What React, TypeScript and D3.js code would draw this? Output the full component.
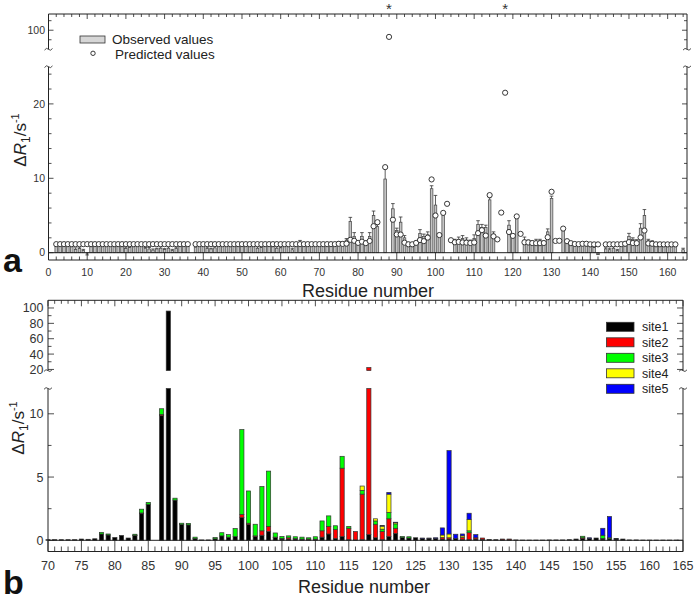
import React from "react";
import * as d3 from "d3";

// ---- panel a : observed / predicted dR1 per residue ----
const residuesA = [
  2, 3, 4, 5, 6, 7, 8, 9, 10, 11,
  12, 13, 14, 15, 16, 17, 18, 19, 20, 21,
  22, 23, 24, 25, 26, 27, 28, 29, 30, 31,
  32, 33, 34, 35, 36, 37, 38, 39, 40, 41,
  42, 43, 44, 45, 46, 47, 48, 49, 50, 51,
  52, 53, 54, 55, 56, 57, 58, 59, 60, 61,
  62, 63, 64, 65, 66, 67, 68, 69, 70, 71,
  72, 73, 74, 75, 76, 77, 78, 79, 80, 81,
  82, 83, 84, 85, 86, 87, 88, 89, 90, 91,
  92, 93, 94, 95, 96, 97, 98, 99, 100, 101,
  102, 103, 104, 105, 106, 107, 108, 109, 110, 111,
  112, 113, 114, 115, 116, 117, 118, 119, 120, 121,
  122, 123, 124, 125, 126, 127, 128, 129, 130, 131,
  132, 133, 134, 135, 136, 137, 138, 139, 140, 141,
  142, 143, 144, 145, 146, 147, 148, 149, 150, 151,
  152, 153, 154, 155, 156, 157, 158, 159, 160, 161,
  162, 163, 164,
];

const observedA = [
  0.85, 0.9, 0.85, 0.9, 0.8, 0.45, 0.55, 0.3, -0.05, 0.8,
  0.85, 0.9, 0.85, 0.9, 0.85, 0.8, 0.85, 0.8, 0.55, 0.7,
  0.8, 0.85, 0.9, 0.6, 0.5, 0.35, 0.5, 0.6, 0.45, 0.6,
  0.3, 0.55, 0.85, 0.9, 0.85, null, 0.75, 0.85, 0.9, 0.55,
  0.5, 0.65, 0.85, 0.9, 0.85, 0.8, 0.9, 0.85, 0.85, 0.9,
  0.8, 0.85, 0.6, 0.7, 0.85, 0.9, 0.8, 0.6, 0.65, 0.85,
  0.8, 0.4, 0.85, 1.2, 0.85, 0.9, 0.85, 0.9, 0.85, 0.9,
  0.95, 1.0, 1.1, 1.3, 1.3, 1.7, 4.2, 2.2, 1.3, 2.2,
  1.4, 2.2, 5.0, 3.5, null, 9.9, null, 5.9, 3.0, 4.1,
  2.0, 1.3, 1.2, 1.4, 2.6, 2.2, 2.4, 8.6, 6.4, 2.3,
  5.0, null, null, 1.5, 1.8, 1.9, 1.7, 1.5, 1.9, 3.8,
  3.4, 3.4, 7.1, 2.5, null, null, null, 3.7, 2.0, 4.6,
  null, 1.7, 1.5, 1.4, 1.5, 1.6, 1.4, 2.8, 7.3, null,
  null, 3.0, 1.4, 1.3, 1.1, 1.0, 1.0, 0.9, 0.8, 0.7,
  -0.15, null, 0.5, 0.4, 0.6, 0.3, 0.9, 0.9, 2.2, 1.8,
  1.6, 3.3, 5.0, 1.6, 1.5, 1.2, 1.1, 1.0, 1.0, 1.0,
  1.0, null, 0.4,
];

const errorA = [
  0.05, 0.05, 0.05, 0.05, 0.05, 0.2, 0.2, 0.15, -0.25, 0.05,
  0.05, 0.05, 0.05, 0.05, 0.05, 0.05, 0.05, 0.05, 0.2, 0.15,
  0.05, 0.05, 0.05, 0.1, 0.2, 0.15, 0.1, 0.2, 0.1, 0.2,
  0.15, 0.2, 0.05, 0.05, 0.05, null, 0.2, 0.05, 0.05, 0.2,
  0.1, 0.2, 0.05, 0.05, 0.05, 0.05, 0.05, 0.05, 0.05, 0.05,
  0.05, 0.05, 0.2, 0.1, 0.05, 0.05, 0.05, 0.2, 0.1, 0.05,
  0.05, 0.2, 0.05, 0.45, 0.05, 0.05, 0.05, 0.05, 0.05, 0.05,
  0.05, 0.05, 0.1, 0.2, 0.2, 0.2, 0.55, 0.5, 0.15, 0.5,
  0.2, 0.5, 0.6, 0.3, null, 1.5, null, 0.7, 0.3, 0.7,
  0.3, 0.1, 0.1, 0.15, 0.5, 0.3, 0.4, 0.4, 1.3, 0.3,
  0.3, null, null, 0.3, 0.3, 0.4, 0.3, 0.2, 0.5, 0.5,
  0.4, 0.3, 0.3, 0.3, null, null, null, 0.6, 0.3, 0.3,
  null, 0.4, 0.2, 0.15, 0.3, 0.2, 0.15, 0.4, 0.3, null,
  null, 0.3, 0.3, 0.1, 0.1, 0.1, 0.1, 0.1, 0.1, 0.1,
  -0.1, null, 0.15, 0.2, 0.2, 0.15, 0.1, 0.1, 0.4, 0.2,
  0.15, 0.6, 0.8, 0.2, 0.1, 0.1, 0.1, 0.1, 0.1, 0.1,
  0.1, null, 0.2,
];

const predictedA = [
  1.15, 1.15, 1.15, 1.15, 1.15, 1.15, 1.15, 1.15, 1.15, 1.15,
  1.15, 1.15, 1.15, 1.15, 1.15, 1.15, 1.15, 1.15, 1.15, 1.15,
  1.15, 1.15, 1.15, 1.15, 1.15, 1.15, 1.15, 1.15, 1.15, 1.15,
  1.15, 1.15, 1.15, 1.15, 1.15, null, 1.15, 1.15, 1.15, 1.15,
  1.15, 1.15, 1.15, 1.15, 1.15, 1.15, 1.15, 1.15, 1.15, 1.15,
  1.15, 1.15, 1.15, 1.15, 1.15, 1.15, 1.15, 1.15, 1.15, 1.15,
  1.15, 1.15, 1.15, 1.15, 1.15, 1.15, 1.15, 1.15, 1.15, 1.15,
  1.15, 1.15, 1.15, 1.2, 1.18, 1.22, 1.73, 1.6, 1.32, 1.48,
  1.28, 1.58, 3.56, 4.1, null, 11.5, 96.5, 4.43, 2.45, 2.44,
  1.35, 1.13, 1.13, 1.32, 1.7, 1.55, 2.03, 9.85, 5.0, 2.37,
  5.35, 6.57, 1.68, 1.4, 1.45, 1.38, 1.35, 1.3, 1.38, 2.63,
  3.03, 2.3, 7.74, 2.2, 1.79, 5.39, 21.5, 2.78, 2.26, 4.88,
  2.53, 1.4, 1.38, 1.3, 1.28, 1.28, 1.3, 2.08, 8.19, 1.58,
  1.6, 3.24, 1.55, 1.28, 1.17, 1.15, 1.2, 1.2, 1.13, 1.12,
  1.12, null, 1.12, 1.13, 1.13, 1.13, 1.15, 1.2, 1.42, 1.3,
  1.28, 2.05, 2.98, 1.25, 1.2, 1.13, 1.13, 1.12, 1.12, 1.12,
  1.12, null, null,
];

const starredA = [88, 118];
const xTickLabelsA = [0, 10, 20, 30, 40, 50, 60, 70, 80, 90, 100, 110, 120, 130, 140, 150, 160];
const yTickLabelsA = [0, 10, 20];
const yTickLabelsAHigh = [100];

// ---- panel b : predicted dR1 split by site ----
const residuesB = [
  70, 71, 72, 73, 74, 75, 76, 77, 78, 79,
  80, 81, 82, 83, 84, 85, 86, 87, 88, 89,
  90, 91, 92, 93, 94, 95, 96, 97, 98, 99,
  100, 101, 102, 103, 104, 105, 106, 107, 108, 109,
  110, 111, 112, 113, 114, 115, 116, 117, 118, 119,
  120, 121, 122, 123, 124, 125, 126, 127, 128, 129,
  130, 131, 132, 133, 134, 135, 136, 137, 138, 139,
  140, 141, 142, 143, 144, 145, 146, 147, 148, 149,
  150, 151, 152, 153, 154, 155, 156, 157, 158, 159,
  160, 161, 162, 163, 164, 165,
];

const site1 = [
  0.05, 0.05, 0.05, 0.05, 0.05, 0.1, 0.08, 0.12, 0.5, 0.42,
  0.22, 0.38, 0.18, 0.38, 2.1, 2.85, 0, 9.85, 96, 3.18,
  1.25, 1.22, 0.15, 0.03, 0.03, 0.12, 0.35, 0.25, 0.3, 1.8,
  1.25, 0.3, 0.4, 0.7, 0.22, 0.1, 0.1, 0.1, 0.05, 0.08,
  0.05, 0.25, 0.5, 0.15, 0.3, 0.05, 0.03, 0.05, 0.45, 0.2,
  0.05, 0.3, 0.55, 0.22, 0.18, 0.2, 0.15, 0.12, 0.15, 0.1,
  0.1, 0.15, 0.05, 0.05, 0.1, 0.08, 0.07, 0.05, 0.03, 0.03,
  0.03, 0.02, 0.02, 0.02, 0.02, 0.03, 0.03, 0.03, 0.05, 0.1,
  0.15, 0.15, 0.18, 0.1, 0.12, 0.1, 0.1, 0.03, 0.03, 0.02,
  0.02, 0.02, 0.02, 0.02, 0.02, 0,
];
const site2 = [
  0, 0, 0, 0, 0, 0, 0, 0, 0, 0,
  0, 0, 0, 0.02, 0.06, 0, 0, 0.1, 0, 0,
  0, 0, 0, 0, 0, 0, 0, 0, 0, 0.25,
  0.1, 0.05, 0.35, 0.4, 0.03, 0.05, 0.1, 0.03, 0.05, 0.02,
  0.05, 0.5, 0.6, 0.7, 5.4, 0.9, 0.66, 3.6, 22, 1.07,
  0.65, 1.4, 0.4, 0, 0, 0, 0, 0, 0, 0.12,
  0.1, 0, 0.18, 0.55, 0.1, 0.1, 0, 0, 0.07, 0.07,
  0, 0, 0, 0, 0, 0, 0, 0, 0, 0,
  0.05, 0, 0, 0.05, 0, 0, 0, 0, 0, 0,
  0, 0, 0, 0, 0, 0,
];
const site3 = [
  0, 0, 0, 0, 0, 0, 0, 0, 0.13, 0.08,
  0, 0, 0, 0.08, 0.3, 0.15, 0, 0.45, 0, 0.15,
  0.1, 0.12, 0.1, 0, 0, 0.1, 0.25, 0.2, 0.63, 6.7,
  2.55, 0.92, 3.5, 4.37, 0.33, 0.15, 0.15, 0.15, 0.15, 0.1,
  0.18, 0.78, 0.83, 0.3, 0.94, 0.15, 0, 0.3, 0, 0.26,
  0.18, 0.5, 0.35, 0.08, 0.1, 0, 0, 0, 0, 0,
  0, 0, 0, 0.15, 0, 0, 0, 0, 0, 0,
  0, 0, 0, 0, 0, 0, 0, 0, 0, 0,
  0.12, 0, 0, 0.25, 0.08, 0, 0, 0, 0, 0,
  0, 0, 0, 0, 0, 0,
];
const site4 = [
  0, 0, 0, 0, 0, 0, 0, 0, 0, 0,
  0, 0, 0, 0, 0, 0, 0, 0, 0, 0,
  0, 0, 0, 0, 0, 0, 0, 0, 0, 0,
  0, 0, 0, 0, 0, 0, 0, 0, 0, 0,
  0, 0, 0, 0, 0, 0, 0, 0.34, 0, 0.17,
  0.24, 1.45, 0.1, 0, 0, 0, 0, 0, 0, 0.2,
  0.3, 0, 0.12, 0.9, 0, 0, 0, 0, 0, 0,
  0, 0, 0, 0, 0, 0, 0, 0, 0, 0,
  0, 0, 0, 0, 0, 0, 0, 0, 0, 0,
  0, 0, 0, 0, 0, 0,
];
const site5 = [
  0, 0, 0, 0, 0, 0, 0, 0, 0, 0,
  0, 0, 0, 0, 0, 0, 0, 0, 0, 0,
  0, 0, 0, 0, 0, 0, 0, 0, 0, 0,
  0, 0, 0, 0, 0, 0, 0, 0, 0, 0,
  0, 0, 0, 0, 0, 0, 0, 0, 0, 0,
  0.04, 0.13, 0.03, 0, 0, 0, 0.03, 0.06, 0.05, 0.56,
  6.59, 0.33, 0.15, 0.49, 0.25, 0, 0, 0, 0, 0,
  0, 0, 0, 0, 0, 0, 0, 0, 0, 0,
  0, 0.05, 0, 0.55, 1.68, 0.05, 0, 0, 0, 0,
  0, 0, 0, 0, 0, 0,
];

const siteNames = ["site1", "site2", "site3", "site4", "site5"];
const siteColors = ["#000000", "#ff0000", "#00ff00", "#ffff00", "#0000ff"];
const xTickLabelsB = [70, 75, 80, 85, 90, 95, 100, 105, 110, 115, 120, 125, 130, 135, 140, 145, 150, 155, 160, 165];
const yTickLabelsB = [0, 5, 10];
const yTickLabelsBHigh = [20, 40, 60, 80, 100];

const FONT = "'Liberation Sans', Arial, Helvetica, sans-serif";
const INK = "#222";

// scales, panel a
const xA = d3.scaleLinear().domain([0, 165]).range([48.5, 687]);
const yAlo = d3.scaleLinear().domain([0, 25]).range([252.7, 66.7]);
const yAhi = d3.scaleLinear().domain([90, 108.5]).range([49.3, 14]);
const yA = (v: number) => (v > 25 ? yAhi(v) : yAlo(v));
const A_BOTTOM = 260;

// scales, panel b
const xB = d3.scaleLinear().domain([70, 165]).range([48, 683]);
const yBlo = d3.scaleLinear().domain([0, 12]).range([540.3, 388.5]);
const yBhi = d3.scaleLinear().domain([18.5, 110]).range([370.6, 300.3]);
const B_BOTTOM = 551.5;

function Squiggle({ x, y }: { x: number; y: number }) {
  return (
    <path
      d={`M${x - 4},${y + 0.8} q2,-3 4,-0.8 t4,-0.8`}
      fill="none"
      stroke={INK}
      strokeWidth={0.8}
    />
  );
}

function YTitle({ x, y }: { x: number; y: number }) {
  return (
    <text
      transform={`translate(${x},${y}) rotate(-90)`}
      textAnchor="middle"
      fontFamily={FONT}
      fontSize={17}
      fill="#222"
    >
      Δ<tspan fontStyle="italic">R</tspan>
      <tspan fontSize={12} dy={4}>1</tspan>
      <tspan dy={-4}>/s</tspan>
      <tspan fontSize={11} dy={-7}>-1</tspan>
    </text>
  );
}

function PanelA() {
  const bw = 2.6;
  const minorX = d3.range(0, 165, 2);
  const minorYlo = d3.range(0, 25, 2);
  const minorYhi = [95, 105];
  const [l, r] = xA.range();
  return (
    <g>
      {/* observed bars */}
      {residuesA.map((res, i) => {
        const v = observedA[i];
        if (v === null) return null;
        const y0 = yAlo(0);
        const y1 = yAlo(v);
        return (
          <rect
            key={"b" + res}
            x={xA(res) - bw / 2}
            y={Math.min(y0, y1)}
            width={bw}
            height={Math.abs(y0 - y1)}
            fill="#c4c4c4"
            stroke="#444"
            strokeWidth={0.7}
          />
        );
      })}
      {/* error bars */}
      {residuesA.map((res, i) => {
        const v = observedA[i];
        const e = errorA[i];
        if (v === null || e === null) return null;
        const cx = xA(res);
        const yv = yAlo(v);
        const ye = yAlo(v + e);
        return (
          <g key={"e" + res} stroke="#333" strokeWidth={0.8}>
            <line x1={cx} x2={cx} y1={yv} y2={ye} />
            <line x1={cx - 1.8} x2={cx + 1.8} y1={ye} y2={ye} />
          </g>
        );
      })}
      {/* predicted */}
      {residuesA.map((res, i) => {
        const p = predictedA[i];
        if (p === null) return null;
        return (
          <circle
            key={"p" + res}
            cx={xA(res)}
            cy={yA(p)}
            r={2.6}
            fill="#fff"
            stroke="#222"
            strokeWidth={0.9}
          />
        );
      })}
      {starredA.map((s) => (
        <text key={"s" + s} x={xA(s)} y={14} textAnchor="middle" fontFamily={FONT} fontSize={15} fill="#333">
          *
        </text>
      ))}

      {/* frame */}
      <g stroke={INK} strokeWidth={1} fill="none">
        <line x1={l} x2={r} y1={14} y2={14} />
        <line x1={l} x2={r} y1={A_BOTTOM} y2={A_BOTTOM} />
        <line x1={l} x2={r} y1={yAlo(0)} y2={yAlo(0)} />
        <line x1={l} x2={l} y1={14} y2={yAhi(90)} />
        <line x1={l} x2={l} y1={yAlo(25)} y2={A_BOTTOM} />
        <line x1={r} x2={r} y1={14} y2={yAhi(90)} />
        <line x1={r} x2={r} y1={yAlo(25)} y2={A_BOTTOM} />
      </g>
      <Squiggle x={l} y={yAhi(90)} />
      <Squiggle x={l} y={yAlo(25)} />
      <Squiggle x={r} y={yAhi(90)} />
      <Squiggle x={r} y={yAlo(25)} />

      {/* x ticks */}
      <g stroke={INK} strokeWidth={0.8}>
        {minorX.map((t) => {
          const major = t % 10 === 0;
          return (
            <g key={"xt" + t}>
              <line x1={xA(t)} x2={xA(t)} y1={A_BOTTOM} y2={major ? yAlo(0) : A_BOTTOM - 3.5} />
              <line x1={xA(t)} x2={xA(t)} y1={14} y2={14 + (major ? 5 : 3)} />
            </g>
          );
        })}
        {minorYlo.map((t) => {
          const len = t % 10 === 0 ? 5 : 3;
          return (
            <g key={"yt" + t}>
              <line x1={l} x2={l + len} y1={yAlo(t)} y2={yAlo(t)} />
              <line x1={r} x2={r - len} y1={yAlo(t)} y2={yAlo(t)} />
            </g>
          );
        })}
        {[...minorYhi, ...yTickLabelsAHigh].map((t) => {
          const len = t % 10 === 0 ? 5 : 3;
          return (
            <g key={"yh" + t}>
              <line x1={l} x2={l + len} y1={yAhi(t)} y2={yAhi(t)} />
              <line x1={r} x2={r - len} y1={yAhi(t)} y2={yAhi(t)} />
            </g>
          );
        })}
      </g>
      <g fontFamily={FONT} fontSize={10.5} fill="#333">
        {xTickLabelsA.map((t) => (
          <text key={"xl" + t} x={xA(t)} y={276} textAnchor="middle">
            {t}
          </text>
        ))}
        {yTickLabelsA.map((t) => (
          <text key={"yl" + t} x={45} y={yAlo(t) + 3.7} textAnchor="end">
            {t}
          </text>
        ))}
        {yTickLabelsAHigh.map((t) => (
          <text key={"yhl" + t} x={45} y={yAhi(t) + 3.7} textAnchor="end">
            {t}
          </text>
        ))}
      </g>
      <text x={368} y={296.5} textAnchor="middle" fontFamily={FONT} fontSize={18} fill="#222">
        Residue number
      </text>
      <YTitle x={26} y={140} />
      <text x={3} y={272} fontFamily={FONT} fontSize={34} fontWeight="bold" fill="#111">
        a
      </text>

      {/* legend */}
      <rect x={80} y={36} width={25} height={7} fill="#d6d6d6" stroke="#333" strokeWidth={0.8} />
      <text x={112} y={43.8} fontFamily={FONT} fontSize={13.5} fill="#222">
        Observed values
      </text>
      <circle cx={93} cy={53.3} r={2.2} fill="#fff" stroke="#222" strokeWidth={0.9} />
      <text x={115} y={58.6} fontFamily={FONT} fontSize={13.5} fill="#222">
        Predicted values
      </text>
    </g>
  );
}

function PanelB() {
  const rows = residuesB.map((res, i) => ({
    res,
    site1: site1[i],
    site2: site2[i],
    site3: site3[i],
    site4: site4[i],
    site5: site5[i],
  }));
  const stacked = d3.stack<any>().keys(siteNames)(rows);
  const bw = 4.2;
  const [l, r] = xB.range();
  const minorX = d3.range(70, 166, 1);
  const minorYlo = d3.range(0, 12, 2.5);
  const minorYhi = d3.range(20, 101, 10);

  const segs: React.ReactNode[] = [];
  stacked.forEach((series, si) => {
    series.forEach((d: any) => {
      const [v0, v1] = d;
      if (v1 - v0 <= 0) return;
      const x = xB(d.data.res) - bw / 2;
      if (v0 < 12) {
        const top = yBlo(Math.min(v1, 12));
        const bot = yBlo(v0);
        segs.push(
          <rect key={`lo${si}-${d.data.res}`} x={x} y={top} width={bw} height={bot - top}
            fill={siteColors[si]} stroke="#333" strokeWidth={0.7} />
        );
      }
      if (v1 > 18.5) {
        const top = yBhi(v1);
        const bot = yBhi(Math.max(v0, 18.5));
        segs.push(
          <rect key={`hi${si}-${d.data.res}`} x={x} y={top} width={bw} height={bot - top}
            fill={siteColors[si]} stroke="#333" strokeWidth={0.7} />
        );
      }
    });
  });

  return (
    <g>
      {segs}
      {/* frame */}
      <g stroke={INK} strokeWidth={1} fill="none">
        <line x1={l} x2={r} y1={300.3} y2={300.3} />
        <line x1={l} x2={r} y1={B_BOTTOM} y2={B_BOTTOM} />
        <line x1={l} x2={r} y1={yBlo(0)} y2={yBlo(0)} />
        <line x1={l} x2={l} y1={300.3} y2={yBhi(18.5)} />
        <line x1={l} x2={l} y1={yBlo(12)} y2={B_BOTTOM} />
        <line x1={r} x2={r} y1={300.3} y2={yBhi(18.5)} />
        <line x1={r} x2={r} y1={yBlo(12)} y2={B_BOTTOM} />
      </g>
      <Squiggle x={l} y={yBhi(18.5)} />
      <Squiggle x={l} y={yBlo(12)} />
      <Squiggle x={r} y={yBhi(18.5)} />
      <Squiggle x={r} y={yBlo(12)} />

      <g stroke={INK} strokeWidth={0.8}>
        {minorX.map((t) => {
          const major = t % 5 === 0;
          return (
            <g key={"bx" + t}>
              <line x1={xB(t)} x2={xB(t)} y1={B_BOTTOM} y2={major ? yBlo(0) : B_BOTTOM - 5} />
              <line x1={xB(t)} x2={xB(t)} y1={300.3} y2={300.3 + (major ? 6 : 3.5)} />
            </g>
          );
        })}
        {minorYlo.map((t) => {
          const len = t % 5 === 0 ? 6 : 3.5;
          return (
            <g key={"by" + t}>
              <line x1={l} x2={l + len} y1={yBlo(t)} y2={yBlo(t)} />
              <line x1={r} x2={r - len} y1={yBlo(t)} y2={yBlo(t)} />
            </g>
          );
        })}
        {minorYhi.map((t) => {
          const len = t % 20 === 0 ? 6 : 3.5;
          return (
            <g key={"byh" + t}>
              <line x1={l} x2={l + len} y1={yBhi(t)} y2={yBhi(t)} />
              <line x1={r} x2={r - len} y1={yBhi(t)} y2={yBhi(t)} />
            </g>
          );
        })}
      </g>
      <g fontFamily={FONT} fontSize={12.5} fill="#333">
        {xTickLabelsB.map((t) => (
          <text key={"bxl" + t} x={xB(t)} y={569.5} textAnchor="middle">
            {t}
          </text>
        ))}
        {yTickLabelsB.map((t) => (
          <text key={"byl" + t} x={43.5} y={yBlo(t) + 4.5} textAnchor="end">
            {t}
          </text>
        ))}
        {yTickLabelsBHigh.map((t) => (
          <text key={"byhl" + t} x={43.5} y={yBhi(t) + 4.5} textAnchor="end">
            {t}
          </text>
        ))}
      </g>
      <text x={364} y={593} textAnchor="middle" fontFamily={FONT} fontSize={18} fill="#222">
        Residue number
      </text>
      <YTitle x={24} y={428} />
      <text x={3} y={594} fontFamily={FONT} fontSize={34} fontWeight="bold" fill="#111">
        b
      </text>

      {/* legend */}
      {siteNames.map((s, i) => (
        <g key={"lg" + s}>
          <rect x={606.5} y={322.3 + i * 15.5} width={27.5} height={9} fill={siteColors[i]} stroke="#333" strokeWidth={0.8} />
          <text x={642} y={331 + i * 15.5} fontFamily={FONT} fontSize={12.5} fill="#222">
            {s}
          </text>
        </g>
      ))}
    </g>
  );
}

export default function App() {
  return (
    <svg
      width={697}
      height={601}
      style={{ position: "absolute", left: 0, top: 0, background: "#fff" }}
    >
      <PanelA />
      <PanelB />
    </svg>
  );
}
